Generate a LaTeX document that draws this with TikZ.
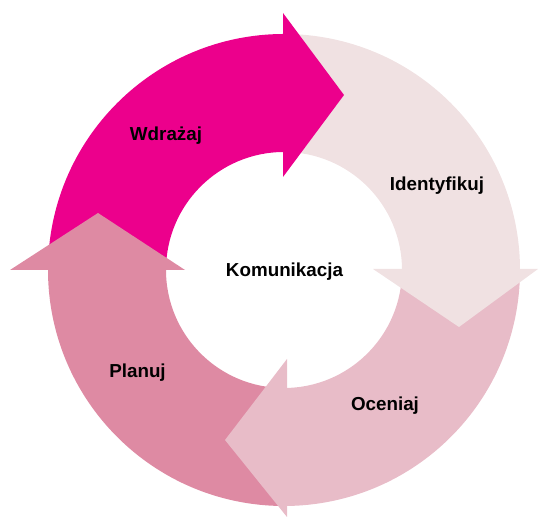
\documentclass[tikz,border=0pt]{standalone}
\usepackage{fontspec}
\setmainfont{Liberation Sans}
\usetikzlibrary{calc}
\definecolor{cWdr}{RGB}{236,0,140}
\definecolor{cIde}{RGB}{240,225,226}
\definecolor{cOce}{RGB}{232,188,200}
\definecolor{cPla}{RGB}{222,138,163}
\newcommand{\ringsector}[3]{% color, start, end
  \fill[#1] ($(C)+(#2:236)$) arc[start angle=#2, end angle=#3, radius=236]
    -- ($(C)+(#3:118)$) arc[start angle=#3, end angle=#2, radius=118] -- cycle;}
\begin{document}
\begin{tikzpicture}[x=1pt,y=1pt,
  lbl/.style={font=\fontsize{18.8}{22}\selectfont\bfseries, text=black, inner sep=0pt}]
\useasboundingbox (0,0) rectangle (539,518);
\coordinate (C) at (284,248);
% bands
\ringsector{cWdr}{90}{180}
\ringsector{cIde}{0}{90}
\ringsector{cOce}{270}{360}
\ringsector{cPla}{180}{270}
% arrowheads
\fill[cWdr] (283,505) -- (344,423) -- (283,341) -- cycle;
\fill[cIde] (373,249) -- (538,249) -- (459,191) -- cycle;
\fill[cOce] (287,159) -- (225,78) -- (287,1) -- cycle;
\fill[cPla] (10,248) -- (98,305) -- (185,248) -- cycle;
% labels
\node[lbl] (wdr) at (166,382) {Wdrażaj};
\node[lbl] (ide) at (437,332) {Identyfikuj};
\node[lbl] (kom) at (284.5,246) {Komunikacja};
\node[lbl] (pla) at (137.5,145) {Planuj};
\node[lbl] (oce) at (385,112) {Oceniaj};
\end{tikzpicture}
\end{document}
